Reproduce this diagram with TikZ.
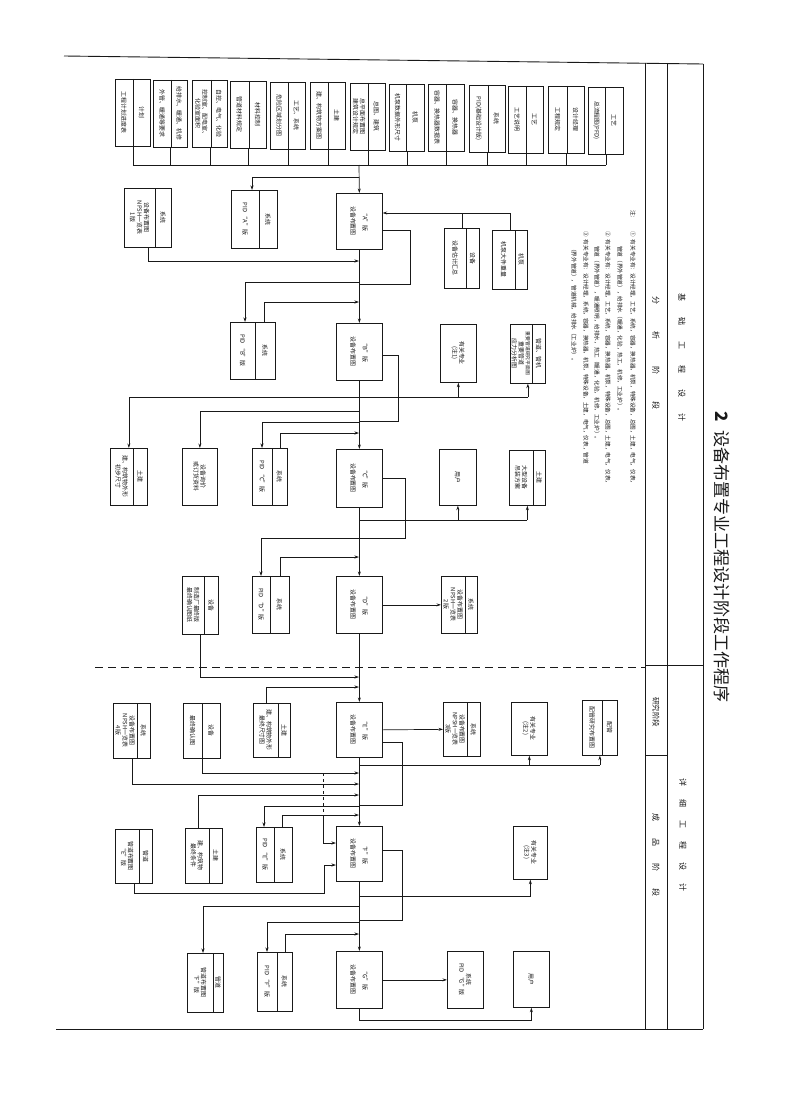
\documentclass[tikz,border=0pt]{standalone}
\usepackage{fontspec}
\setmainfont{Noto Sans CJK SC}
\usetikzlibrary{arrows.meta}
% name, x1, y1, x2, y2, xdiv, header, content
\newcommand\twobox[8]{%
  \node[bx, minimum width={(#4-#2)*1pt}, minimum height={(#5-#3)*1pt}] (#1) at (#2,#3) {};
  \draw (#6,#3) -- (#6,#5);
  \node[txt] (#1h) at ({(#6+#4)/2},{(#3+#5)/2}) {#7};
  \node[txt] (#1c) at ({(#2+#6)/2},{(#3+#5)/2}) {#8};}
% name, x1, y1, x2, y2, text
\newcommand\onebox[6]{%
  \node[bx, minimum width={(#4-#2)*1pt}, minimum height={(#5-#3)*1pt}] (#1) at (#2,#3) {};
  \node[txt] (#1t) at ({(#2+#4)/2},{(#3+#5)/2}) {#6};}
\begin{document}
\begin{tikzpicture}[x=1pt,y=-1pt,line width=0.7pt,color=black!90,
  >={Stealth[length=4.5pt,width=3pt]},
  txt/.style={rotate=-90,align=center,inner sep=0pt,font=\fontsize{5.9}{7}\selectfont},
  bx/.style={draw,inner sep=0pt,anchor=north west},
  note/.style={rotate=-90,anchor=west,inner sep=0pt,font=\fontsize{5.6}{7}\selectfont},
  hdr/.style={rotate=-90,inner sep=0pt,font=\fontsize{8}{9}\selectfont},
  frame/.style={line width=0.9pt}]
\useasboundingbox (0,0) rectangle (800,1097);
\fill[white] (0,0) rectangle (800,1097);

% ---------- frame ----------
\draw[frame] (64,56) -- (703,64);
\draw[frame] (56,1029) -- (703,1029);
\draw[frame] (645,63) -- (645,1029);
\draw[frame] (667,63) -- (667,1029);
\draw[frame] (703,64) -- (703,1029);
\draw (645,665) -- (703,665);
\draw (645,755) -- (667,755);
\draw[dash pattern=on 8pt off 5pt] (95,667) -- (645,667);

\node[hdr] (h1) at (682,357) {基\hspace{16pt}础\hspace{16pt}工\hspace{16pt}程\hspace{16pt}设\hspace{16pt}计};
\node[hdr] (h2) at (656,353) {分\hspace{27pt}析\hspace{27pt}阶\hspace{27pt}段};
\node[hdr,font=\fontsize{7.5}{8}\selectfont] (h3) at (656,712) {研究阶段};
\node[hdr] (h4) at (683,835) {详\hspace{13pt}细\hspace{13pt}工\hspace{13pt}程\hspace{13pt}设\hspace{13pt}计};
\node[hdr] (h5) at (656,855) {成\hspace{17pt}品\hspace{17pt}阶\hspace{17pt}段};

\node[rotate=-90,anchor=west,inner sep=0pt,font=\fontsize{17}{18}\selectfont] (title) at (722,411)
  {\textbf{2}\hspace{9pt}设备布置专业工程设计阶段工作程序};

% ---------- notes ----------
\node[note] (n0) at (633,210) {注：};
\node[note] (n1) at (633,231) {①\hspace{3pt}有关专业有：设计经理，工艺，系统，容器，换热器，机泵，特殊设备，总图，土建，电气，仪表，};
\node[note] (n2) at (620,246) {管道（界外管道），给排水（暖通，化验，热工，机修，工业炉）。};
\node[note] (n3) at (608,231) {②\hspace{3pt}有关专业有：设计经理，工艺，系统，容器，换热器，机泵，特殊设备，总图，土建，电气，仪表，};
\node[note] (n4) at (597,246) {管道（界外管道），暖通照明，给排水，热工（暖通，化验，机修，工业炉）。};
\node[note] (n5) at (586,231) {③\hspace{3pt}有关专业有：设计经理，系统，容器，换热器，机泵，特殊设备，土建，电气，仪表，管道};
\node[note] (n6) at (574,246) {（界外管道），管道机械，给排水（工业炉）。};

% ---------- top row ----------
\twobox{T1}{115}{79}{150}{146}{133}{计划}{工程计划进度表}
\twobox{T2}{153}{80}{187}{147}{171}{给排水、暖通、机修}{外管、暖通等要求}
\twobox{T3}{192}{80}{227}{147}{211}{自控、电气、化验}{控制室、配电室、\\化验室面积}
\twobox{T4}{230}{81}{266}{148}{249}{材料控制}{管道材料规定}
\twobox{T5}{270}{82}{305}{149}{288}{工艺、系统}{危险区域划分图}
\twobox{T6}{310}{82}{345}{149}{328}{土建}{建、构筑物方案图}
\twobox{T7}{350}{83}{385}{150}{368}{总图、建筑}{总平面布置图\\建筑设计规定}
\twobox{T8}{389}{84}{424}{151}{406}{机泵}{机泵数据外形尺寸}
\twobox{T9}{428}{84}{464}{151}{446}{容器、换热器}{容器、换热器数据表}
\twobox{T10}{469}{85}{505}{152}{488}{系统}{PID(基础设计版)}
\twobox{T11}{508}{86}{543}{153}{526}{工艺}{工艺说明}
\twobox{T12}{548}{86}{584}{153}{567}{设计经理}{工程规定}
\twobox{T13}{588}{87}{623}{154}{605}{工艺}{总流程图(PFD)}

\coordinate (bus) at (359,165);
\foreach \n in {T1,T2,T3,T4,T5,T6,T7,T8,T9,T10,T11,T12,T13}
  \draw (\n.south) -- (\n.south |- bus);
\draw (T1.south |- bus) -- (T13.south |- bus);

% ---------- layout boxes ----------
\onebox{A}{336}{193}{382}{249}{“A”版\\[5pt]设备布置图}
\onebox{B}{336}{323}{382}{380}{“B”版\\[5pt]设备布置图}
\onebox{C}{336}{449}{382}{507}{“C”版\\[5pt]设备布置图}
\onebox{D}{336}{576}{382}{633}{“D”版\\[5pt]设备布置图}
\onebox{E}{336}{702}{382}{757}{“E”版\\[5pt]设备布置图}
\onebox{F}{336}{826}{382}{881}{“F”版\\[5pt]设备布置图}
\onebox{G}{336}{951}{382}{1008}{“G”版\\[5pt]设备布置图}

% ---------- row A ----------
\twobox{PIDA}{231}{190}{277}{248}{259}{系统}{PID\ “A”版}
\twobox{SYS1}{124}{188}{171}{247}{155}{系统}{设备布置图\\NPSH一览表\\1版}
\twobox{SB1}{444}{228}{479}{288}{466}{设备}{设备估计汇总}
\twobox{JB}{492}{230}{527}{289}{515}{机泵}{机泵大件重量}

% ---------- row B ----------
\twobox{PIDB}{230}{322}{275}{379}{255}{系统}{PID\ “B”版}
\onebox{YG1}{440}{324}{476}{382}{有关专业\\(注1)}
\twobox{GD1}{510}{324}{545}{383}{532}{管道、管机}{\fontsize{4.8}{5.8}\selectfont 重要管道研究平面图\\重要管道\\应力分析图}

% ---------- row C ----------
\twobox{PIDC}{252}{448}{287}{505}{272}{系统}{PID\ “C”版}
\onebox{SBX}{182}{448}{217}{505}{设备询价\\或订货资料}
\twobox{TJ1}{110}{448}{147}{505}{133}{土建}{建、构筑物外形\\初步尺寸}
\onebox{YH1}{439}{449}{476}{505}{用户}
\twobox{TJ2}{509}{450}{545}{505}{533}{土建}{大型设备\\吊装方案}

% ---------- row D ----------
\twobox{PIDD}{252}{576}{289}{633}{270}{系统}{PID\ “D”版}
\twobox{SB2}{182}{576}{218}{634}{204}{设备}{制造厂最终版\\最终确认图纸}
\twobox{SYS2}{441}{576}{477}{633}{465}{系统}{设备布置图\\NPSH一览表\\2版}

% ---------- row E ----------
\twobox{TJ3}{253}{703}{290}{757}{278}{土建}{建、构筑物外形\\最终尺寸图}
\twobox{SB3}{183}{703}{220}{758}{202}{设备}{最终确认图}
\twobox{SYS4}{113}{703}{150}{758}{137}{系统}{设备布置图\\NPSH一览表\\4版}
\twobox{SYS3}{443}{702}{480}{756}{467}{系统}{设备布置图\\NPSH一览表\\3版}
\onebox{YG2}{511}{702}{547}{755}{有关专业\\(注2)}
\twobox{PG}{582}{700}{617}{755}{602}{配管}{配管研究布置图}

% ---------- row F ----------
\twobox{PIDE}{256}{827}{292}{882}{274}{系统}{PID\ “E”版}
\twobox{TJ4}{185}{828}{222}{883}{209}{土建}{建、构筑物\\最终条件}
\twobox{GDE}{115}{829}{152}{883}{139}{管道}{管道布置图\\“E”版}
\onebox{YG3}{513}{826}{547}{879}{有关专业\\(注3)}

% ---------- row G ----------
\twobox{PIDF}{257}{952}{292}{1011}{277}{系统}{PID\ “F”版}
\twobox{GDF}{187}{953}{223}{1012}{213}{管道}{管道布置图\\“F”版}
\onebox{SYSG}{447}{951}{483}{1008}{系统\\PID\ “G”版}
\onebox{YH2}{513}{951}{549}{1007}{用户}

% ---------- connectors ----------
% A
\draw[->] (bus) -- (A.north);
\draw[->] (359,177) -- (252,177) -- (PIDA.north -| 252,0);
\draw[->] (SYS1.south) -- (SYS1.south |- 0,261) -- (359,261);
\draw (SB1.north) -- (SB1.north |- 0,213);
\draw[->] (JB.north) -- (JB.north |- 0,213) -- (A.east |- 0,213);
\draw (A.east |- 0,230) -- (410,230) -- (410,284) -- (359,284);
\draw[->] (359,282) -- (245,282) -- (PIDB.north -| 245,0);
\draw[->] (PIDB.north -| 264,0) -- (264,302) -- (359,302);
\draw[->] (A.south) -- (B.north);
% B
\draw (B.east |- 0,355) -- (398,355) -- (398,421) -- (359,421);
\draw (359,397) -- (GD1.south |- 0,397);
\draw[->] (YG1.south |- 0,397) -- (YG1.south);
\draw[->] (GD1.south |- 0,397) -- (GD1.south);
\draw[->] (359,397) -- (TJ1.north |- 0,397) -- (TJ1.north);
\draw[->] (359,411) -- (SBX.north |- 0,411) -- (SBX.north);
\draw[->] (359,422) -- (262,422) -- (PIDC.north -| 262,0);
\draw[->] (PIDC.north -| 280,0) -- (280,433) -- (359,433);
\draw[->] (B.south) -- (C.north);
% C
\draw (C.east |- 0,478) -- (405,478) -- (405,538) -- (359,538);
\draw (359,520) -- (TJ2.south |- 0,520);
\draw[->] (YH1.south |- 0,520) -- (YH1.south);
\draw[->] (TJ2.south |- 0,520) -- (TJ2.south);
\draw[->] (359,538) -- (261,538) -- (PIDD.north -| 261,0);
\draw[->] (PIDD.north -| 280,0) -- (280,557) -- (359,557);
\draw[->] (C.south) -- (D.north);
% D
\draw[->] (D.east) -- (SYS2.west);
\draw[->] (SB2.south) -- (SB2.south |- 0,677) -- (359,677);
\draw[->] (D.south) -- (E.north);
% E
\draw[->] (TJ3.north -| 266,0) -- (266,687) -- (359,687);
\draw[->] (E.east) -- (SYS3.west);
\draw (359,765) -- (PG.south |- 0,765);
\draw[->] (YG2.south |- 0,765) -- (YG2.south);
\draw[->] (PG.south |- 0,765) -- (PG.south);
\draw (E.east |- 0,742) -- (402,742) -- (402,805) -- (359,805);
\draw[->] (SB3.south) -- (SB3.south |- 0,773) -- (359,773);
\draw[->] (SYS4.south) -- (SYS4.south |- 0,784) -- (359,784);
\draw[->] (TJ4.north -| 198,0) -- (198,795) -- (359,795);
\draw[->] (359,806) -- (264,806) -- (PIDE.north -| 264,0);
\draw[->] (PIDE.north -| 282,0) -- (282,815) -- (359,815);
\draw[dashed] (323,773) -- (323,818);
\draw[->] (323,818) -- (323,843) -- (F.west |- 0,843);
\draw[->] (GDE.south) -- (GDE.south |- 0,893) -- (324,893) -- (324,865) -- (F.west |- 0,865);
\draw[->] (E.south) -- (F.north);
% F
\draw (F.east |- 0,850) -- (402,850) -- (402,920) -- (359,920);
\draw[->] (359,896) -- (YG3.south |- 0,896) -- (YG3.south);
\draw[->] (359,906) -- (203,906) -- (GDF.north -| 203,0);
\draw[->] (359,922) -- (267,922) -- (PIDF.north -| 267,0);
\draw[->] (PIDF.north -| 285,0) -- (285,934) -- (359,934);
\draw[->] (F.south) -- (G.north);
% G
\draw[->] (G.east) -- (SYSG.west);
\draw[->] (G.south) -- (G.south |- 0,1020) -- (YH2.south |- 0,1020) -- (YH2.south);
\end{tikzpicture}
\end{document}
